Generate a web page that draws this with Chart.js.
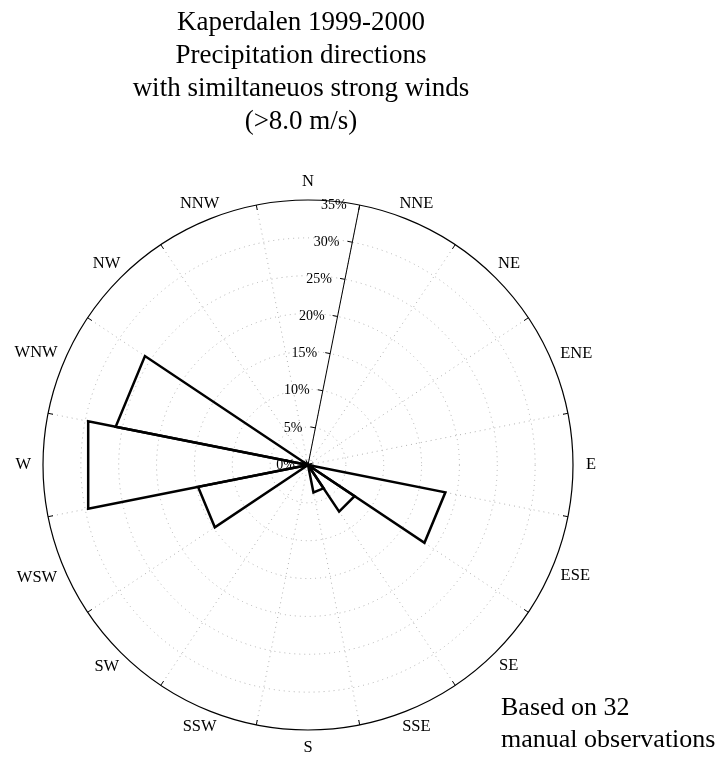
<!DOCTYPE html>
<html>
<head>
<meta charset="utf-8">
<title>Kaperdalen 1999-2000</title>
<script src="https://cdn.jsdelivr.net/npm/chart.js@4.4.0/dist/chart.umd.min.js"></script>
<style>
  html, body { margin: 0; padding: 0; background: #fff; }
  #wrap { position: relative; width: 726px; height: 759px; }
</style>
</head>
<body>
<div id="wrap"><canvas id="rose"></canvas></div>
<script>
// Wind rose data (percent of observations per direction sector)
const titleLines = ['Kaperdalen 1999-2000', 'Precipitation directions', 'with similtaneuos strong winds', '(>8.0 m/s)'];
const noteLines = ['Based on 32', 'manual observations'];
const directions = ['N', 'NNE', 'NE', 'ENE', 'E', 'ESE', 'SE', 'SSE', 'S', 'SSW', 'SW', 'WSW', 'W', 'WNW', 'NW', 'NNW'];
const frequencies = [0, 0, 0, 0, 0, 18.5, 7.4, 3.7, 0, 0, 0, 14.8, 29.6, 25.9, 0, 0];
const radialTicks = [0, 5, 10, 15, 20, 25, 30, 35];

const SERIF = '"Liberation Serif", "Times New Roman", serif';
const GRID_GREY = '#b0b0b0';

// 32 angular slots: even = sector centre (compass label), odd = sector boundary
const slotCount = directions.length * 2;
const slotLabels = [];
for (let i = 0; i < slotCount; i++) {
  slotLabels.push(i % 2 === 0 ? directions[i / 2] : '');
}

// one dataset per non-empty sector: centre -> both boundaries -> centre
const datasets = [];
directions.forEach((dir, k) => {
  const v = frequencies[k];
  if (!v) return;
  const data = new Array(slotCount).fill(null);
  const c = 2 * k;
  data[(c - 2 + slotCount) % slotCount] = 0;
  data[(c - 1 + slotCount) % slotCount] = v;
  data[(c + 1) % slotCount] = v;
  data[(c + 2) % slotCount] = 0;
  datasets.push({
    label: dir,
    data,
    spanGaps: true,
    fill: false,
    borderColor: '#000',
    borderWidth: 2.5,
    borderJoinStyle: 'miter',
    pointRadius: 0,
    pointHoverRadius: 0,
    tension: 0
  });
});

const roseDecor = {
  id: 'roseDecor',
  afterDatasetsDraw(chart) {
    const ctx = chart.ctx;
    const scale = chart.scales.r;
    const R = scale.drawingArea;
    const cx = scale.xCenter;
    const cy = scale.yCenter;

    ctx.save();
    ctx.strokeStyle = '#000';
    ctx.lineWidth = 1;
    ctx.setLineDash([]);

    // small inward ticks on the outer circle at sector boundaries
    for (let i = 1; i < slotCount; i += 2) {
      const a = scale.getPointPosition(i, R);
      const b = scale.getPointPosition(i, R - 5);
      ctx.beginPath();
      ctx.moveTo(a.x, a.y);
      ctx.lineTo(b.x, b.y);
      ctx.stroke();
    }

    // radial axis along the N/NNE boundary
    const end = scale.getPointPosition(1, R);
    ctx.beginPath();
    ctx.moveTo(cx, cy);
    ctx.lineTo(end.x, end.y);
    ctx.stroke();

    const ux = Math.cos(end.angle);
    const uy = Math.sin(end.angle);
    ctx.fillStyle = '#000';
    ctx.font = '14px ' + SERIF;
    ctx.textAlign = 'right';
    ctx.textBaseline = 'middle';
    radialTicks.forEach(v => {
      const p = scale.getPointPosition(1, scale.getDistanceFromCenterForValue(v));
      if (v > 0 && v < 35) {
        ctx.beginPath();
        ctx.moveTo(p.x, p.y);
        ctx.lineTo(p.x + uy * 5, p.y - ux * 5);
        ctx.stroke();
      }
      ctx.fillText(v + '%', p.x - 13, p.y);
    });

    // compass labels
    ctx.font = '16.5px ' + SERIF;
    ctx.textAlign = 'center';
    directions.forEach((dir, k) => {
      const w = ctx.measureText(dir).width;
      const probe = scale.getPointPosition(2 * k, R);
      const s = Math.abs(Math.cos(probe.angle));
      const r = R + 18 + Math.max(0, w / 2 - 6) * Math.pow(s, 4);
      const p = scale.getPointPosition(2 * k, r);
      ctx.fillText(dir, p.x, p.y);
    });

    // title
    ctx.font = '27px ' + SERIF;
    ctx.textAlign = 'center';
    ctx.textBaseline = 'alphabetic';
    titleLines.forEach((t, i) => {
      ctx.fillText(t, cx - 7, 30 + i * 33);
    });

    // note
    ctx.font = '26px ' + SERIF;
    ctx.textAlign = 'left';
    noteLines.forEach((t, i) => {
      ctx.fillText(t, 501, 715 + i * 32);
    });
    ctx.restore();
  }
};

new Chart(document.getElementById('rose'), {
  type: 'radar',
  data: { labels: slotLabels, datasets },
  plugins: [roseDecor],
  options: {
    responsive: true,
    maintainAspectRatio: false,
    animation: false,
    layout: { padding: { left: 43, right: 153, top: 200, bottom: 29 } },
    plugins: {
      legend: { display: false },
      title: { display: false },
      tooltip: { enabled: false }
    },
    scales: {
      r: {
        min: 0,
        max: 35,
        startAngle: 0,
        ticks: { display: false, stepSize: 5 },
        pointLabels: { display: false },
        grid: {
          circular: true,
          color: c => (c.tick && c.tick.value === 35 ? '#000' : GRID_GREY),
          lineWidth: c => (c.tick && c.tick.value === 35 ? 1.2 : 1)
        },
        border: {
          dash: c => (c.tick && c.tick.value === 35 ? [] : [1, 4])
        },
        angleLines: {
          color: c => (c.index % 2 === 1 ? GRID_GREY : 'rgba(0,0,0,0)'),
          borderDash: [1, 4]
        }
      }
    }
  }
});
</script>
</body>
</html>
